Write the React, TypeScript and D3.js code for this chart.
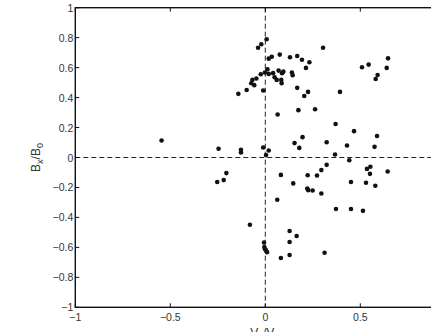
import React from "react";
import * as d3 from "d3";

const xValues: number[] = [
  -0.038, -0.021, 0.007, 0.018, 0.034, 0.076, 0.13, 0.168, 0.193, 0.232, 0.214, 0.304,
  0.011, 0.018, -0.002, -0.024, -0.047, -0.068, -0.074, -0.058, 0.041, 0.049, 0.06, 0.07,
  0.088, 0.095, 0.084, 0.086, 0.14, 0.144, -0.011, -0.098, -0.142, 0.168, 0.225, 0.205,
  0.262, 0.174, 0.065, 0.393, 0.646, 0.509, 0.544, 0.639, 0.591, 0.581,
  0.37, 0.467, 0.588, 0.196, 0.154, 0.179, 0.323, 0.43, 0.575, 0.367, 0.442, 0.323,
  0.295, 0.272, 0.223, 0.082, 0.147, 0.221, 0.226, 0.249, 0.295, 0.063, 0.372, 0.451,
  0.514, 0.451, 0.53, 0.579, 0.535, 0.553, 0.551, 0.644,
  -0.546, -0.246, -0.128, -0.128, -0.011, 0.018, 0.004, -0.205, -0.219, -0.253,
  -0.081, 0.128, 0.165, 0.128, -0.007, -0.005, -0.002, 0.004, 0.009, 0.128, 0.082, 0.312,
];

const yValues: number[] = [
  0.733, 0.756, 0.789, 0.66, 0.673, 0.687, 0.669, 0.678, 0.653, 0.636, 0.598, 0.733,
  0.589, 0.558, 0.567, 0.556, 0.527, 0.518, 0.496, 0.483, 0.563, 0.536, 0.518, 0.58,
  0.563, 0.573, 0.518, 0.496, 0.567, 0.549, 0.447, 0.451, 0.425, 0.465, 0.438, 0.411,
  0.322, 0.316, 0.287, 0.438, 0.662, 0.602, 0.62, 0.598, 0.551, 0.524,
  0.224, 0.176, 0.144, 0.136, 0.096, 0.064, 0.102, 0.08, 0.071, 0.02, -0.018, -0.049,
  -0.084, -0.12, -0.118, -0.116, -0.173, -0.207, -0.218, -0.22, -0.24, -0.282, -0.344, -0.344,
  -0.356, -0.164, -0.169, -0.189, -0.076, -0.062, -0.109, -0.093,
  0.113, 0.058, 0.051, 0.033, 0.067, 0.047, 0.016, -0.104, -0.151, -0.164,
  -0.449, -0.491, -0.524, -0.564, -0.567, -0.598, -0.611, -0.62, -0.633, -0.651, -0.671, -0.636,
];

const xTicks: number[] = [-1, -0.5, 0, 0.5];
const yTicks: number[] = [-1, -0.8, -0.6, -0.4, -0.2, 0, 0.2, 0.4, 0.6, 0.8, 1];

const W = 431;
const H = 332;

export default function App() {
  const x = d3.scaleLinear().domain([-1, 1]).range([75.3, 455.3]);
  const y = d3.scaleLinear().domain([-1, 1]).range([307.3, 7.7]);
  const fmt = (v: number) => (v === 0 ? "0" : String(v).replace("-", "\u2212"));
  const font = "'Liberation Sans', Arial, sans-serif";
  const pts = xValues.map((xv, i) => [xv, yValues[i]]);
  return (
    <svg
      width={W}
      height={H}
      style={{ position: "absolute", left: 0, top: 0, background: "#fff" }}
      fontFamily={font}
    >
      <rect x={0} y={0} width={W} height={H} fill="#fff" />
      {/* dashed zero lines */}
      <line x1={x(0)} x2={x(0)} y1={y(1)} y2={y(-1)} stroke="#222" strokeWidth={1} strokeDasharray="5,3" />
      <line x1={x(-1)} x2={x(1)} y1={y(0)} y2={y(0)} stroke="#222" strokeWidth={1} strokeDasharray="5,3" />
      {/* points */}
      {pts.map((p, i) => (
        <circle key={i} cx={x(p[0])} cy={y(p[1])} r={2.3} fill="#111" />
      ))}
      {/* axes box */}
      <rect x={x(-1)} y={y(1)} width={x(1) - x(-1)} height={y(-1) - y(1)} fill="none" stroke="#111" strokeWidth={1.4} />
      {/* x ticks */}
      {xTicks.map((t) => (
        <g key={"x" + t}>
          <line x1={x(t)} x2={x(t)} y1={y(-1)} y2={y(-1) - 4} stroke="#111" strokeWidth={1} />
          <line x1={x(t)} x2={x(t)} y1={y(1)} y2={y(1) + 4} stroke="#111" strokeWidth={1} />
          <text x={x(t)} y={y(-1) + 14} fontSize={10.5} fill="#333" textAnchor="middle">
            {fmt(t)}
          </text>
        </g>
      ))}
      {/* y ticks */}
      {yTicks.map((t) => (
        <g key={"y" + t}>
          <line x1={x(-1)} x2={x(-1) + 4} y1={y(t)} y2={y(t)} stroke="#111" strokeWidth={1} />
          <text x={x(-1) - 2} y={y(t) + 4} fontSize={10.5} fill="#333" textAnchor="end">
            {fmt(t)}
          </text>
        </g>
      ))}
      {/* y label */}
      <text transform={`translate(40,${y(0)}) rotate(-90)`} fontSize={12} fill="#333" textAnchor="middle">
        B<tspan fontSize={9} dy={3}>x</tspan>
        <tspan dy={-3}>/B</tspan>
        <tspan fontSize={9} dy={3}>0</tspan>
      </text>
      {/* x label */}
      <text x={x(0)} y={337} fontSize={12} fill="#333" textAnchor="middle">
        V<tspan fontSize={9} dy={3}>y</tspan>
        <tspan dy={-3}>/V</tspan>
        <tspan fontSize={9} dy={3}>A</tspan>
      </text>
    </svg>
  );
}
